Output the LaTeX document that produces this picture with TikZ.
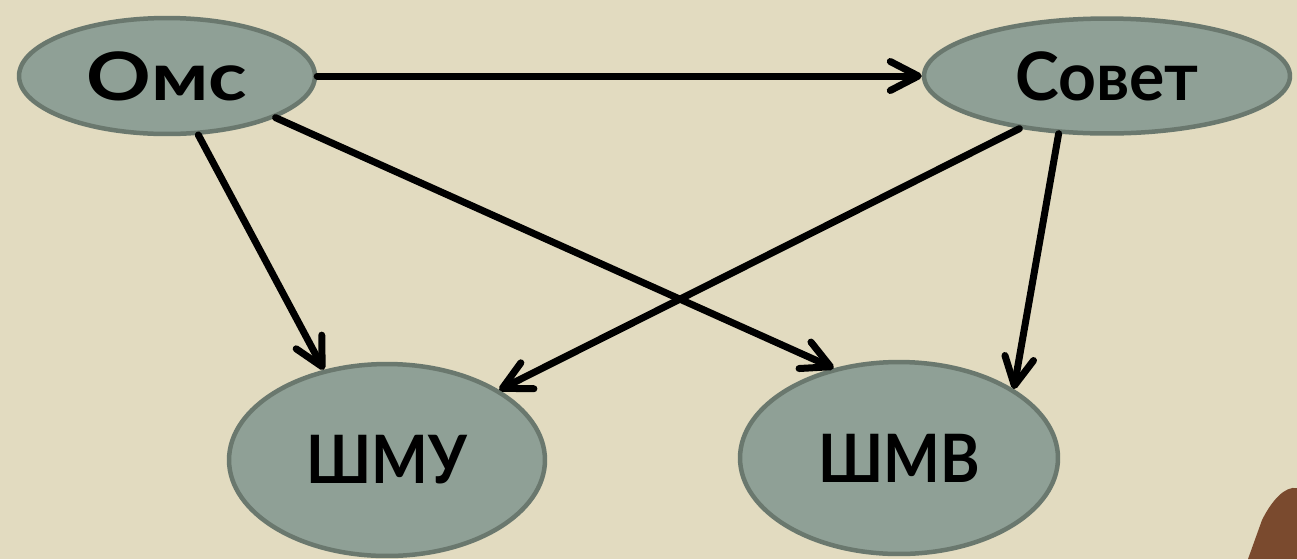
\documentclass[tikz,border=0pt]{standalone}
\usepackage{fontspec}
\setmainfont{Lato}
\newfontfamily\fwide{Lato}[FakeStretch=1.2]
\newfontfamily\fmid{Lato}[FakeStretch=0.99]
\newfontfamily\fnarrow{Lato}[FakeStretch=0.9]
\usetikzlibrary{arrows.meta,shapes.geometric}
\definecolor{parch}{HTML}{E2DBC0}
\definecolor{efill}{HTML}{8FA096}
\definecolor{eline}{HTML}{6A786E}
\definecolor{quill}{HTML}{7A4A2E}
\begin{document}
\begin{tikzpicture}[x=0.02cm,y=-0.02cm,
  ell/.style={ellipse, draw=eline, fill=efill, line width=0.09cm, inner sep=0pt,
    font=\fontsize{38}{38}\selectfont\bfseries},
  arr/.style={line width=0.14cm, line cap=round,
    -{Straight Barb[length=0.56cm,width=0.58cm,round]}}]
\fill[parch] (0,0) rectangle (1297,559);
\useasboundingbox (0,0) rectangle (1297,559);
\fill[quill] (1297,488) .. controls (1285,486) and (1272,500) .. (1262,520) -- (1248,559) -- (1297,559) -- cycle;
\node[ell, minimum width=5.92cm, minimum height=2.32cm] (omc) at (167,76) {\fwide\bfseries Омс};
\node[ell, minimum width=7.32cm, minimum height=2.30cm] (sovet) at (1107,76) {\fmid\bfseries Совет};
\node[ell, minimum width=6.32cm, minimum height=3.84cm] (shmu) at (387,460) {\fnarrow\bfseries ШМУ};
\node[ell, minimum width=6.36cm, minimum height=3.84cm] (shmv) at (899,458) {\fnarrow\bfseries ШМВ};
\draw[arr] (omc) -- (sovet);
\draw[arr] (omc.-62) -- (shmu.125);
\draw[arr] (omc.-21) -- (shmv.126);
\draw[arr] (sovet.211) -- (shmu.32);
\draw[arr] (sovet.230) -- (shmv.31);
\end{tikzpicture}
\end{document}
